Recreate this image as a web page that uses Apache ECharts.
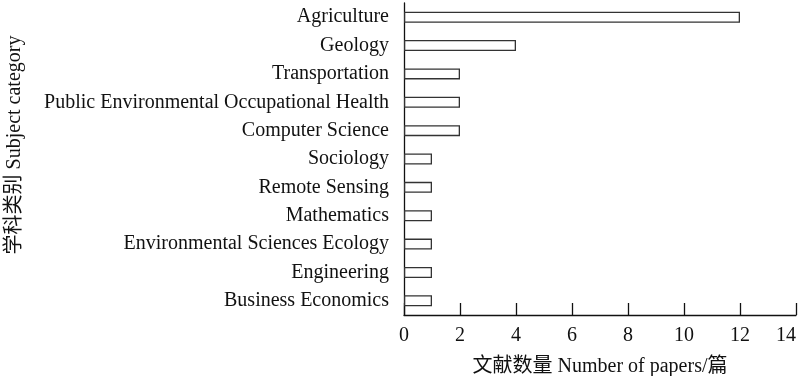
<!DOCTYPE html>
<html>
<head>
<meta charset="utf-8">
<script src="https://cdn.jsdelivr.net/npm/echarts@6/dist/echarts.min.js"></script>
<style>html,body{margin:0;padding:0;background:#fff}#c{width:800px;height:376px}</style>
</head>
<body>
<div id="c"></div>
<script>
const categories = ["Agriculture","Geology","Transportation","Public Environmental Occupational Health","Computer Science","Sociology","Remote Sensing","Mathematics","Environmental Sciences Ecology","Engineering","Business Economics"];
const values = [12,4,2,2,2,1,1,1,1,1,1];
const xTicks = {min:0, max:14, interval:2};
const xName = "文献数量 Number of papers/篇";
const yName = "学科类别 Subject category";
const FONT = "'Liberation Serif','Noto Sans CJK SC',serif";
const chart = echarts.init(document.getElementById('c'), null, {renderer:'canvas'});
chart.setOption({
  animation:false,
  backgroundColor:'#fff',
  grid:{left:404, right:4, top:3, bottom:61, containLabel:false, outerBoundsMode:'none'},
  xAxis:{type:'value', min:xTicks.min, max:xTicks.max, interval:xTicks.interval,
    name:xName, nameLocation:'middle', nameGap:42,
    nameTextStyle:{fontFamily:FONT, fontSize:20, color:'#111'},
    axisLine:{show:true, lineStyle:{color:'#111', width:1.3}},
    axisTick:{show:true, inside:true, length:12, lineStyle:{color:'#111', width:1.3}},
    axisLabel:{fontFamily:FONT, fontSize:20, color:'#111', margin:11, alignMaxLabel:'right'},
    splitLine:{show:false}},
  yAxis:{type:'category', data:categories, inverse:true,
    axisLine:{show:true, onZero:false, lineStyle:{color:'#111', width:1.3}},
    axisTick:{show:false},
    axisLabel:{fontFamily:FONT, fontSize:20, color:'#111', margin:15},
    splitLine:{show:false}},
  graphic:[{type:'text', x:15, y:145, rotation:Math.PI/2, style:{text:yName, font:"20px "+FONT, fill:'#111', align:'center', verticalAlign:'middle'}}],
  series:[{type:'bar', data:values, barWidth:11,
    itemStyle:{color:'#fff', borderColor:'#333', borderWidth:1.3}}]
});
</script>
</body>
</html>
